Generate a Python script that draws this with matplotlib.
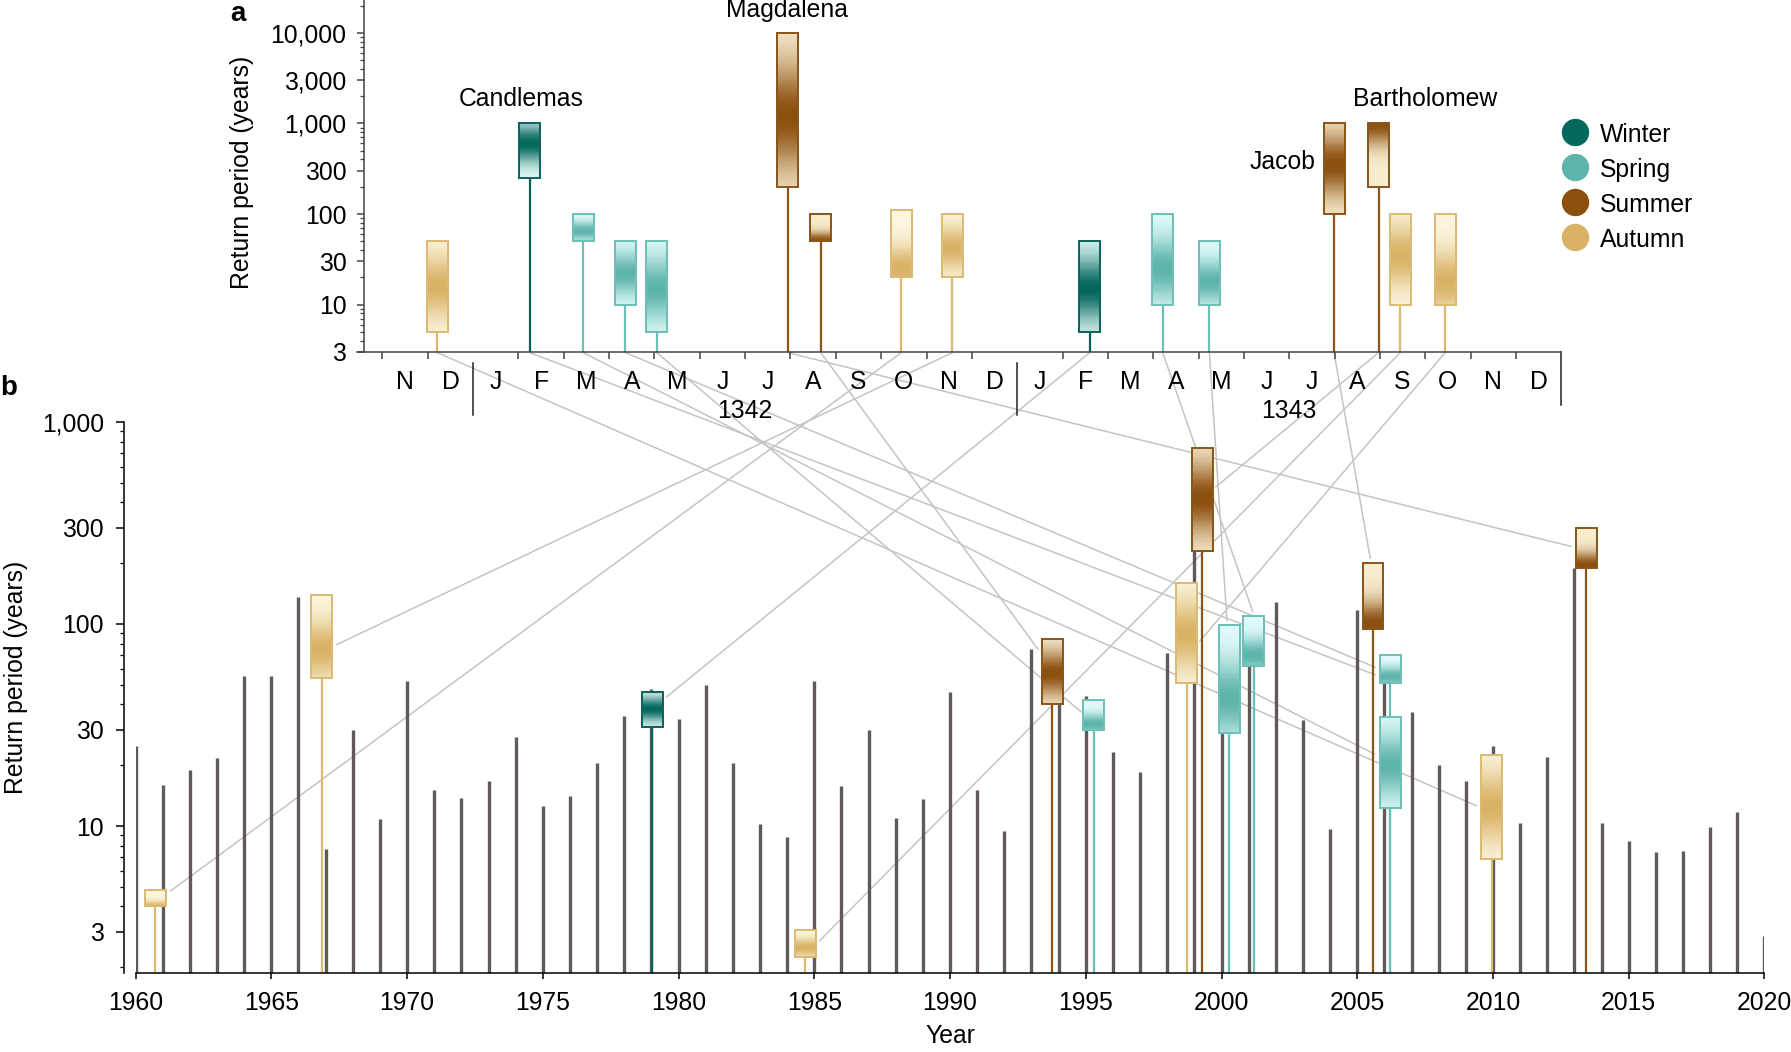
import numpy as np
import matplotlib
matplotlib.use("Agg")
import matplotlib.pyplot as plt
from matplotlib import ticker, transforms
from matplotlib.colors import LinearSegmentedColormap
from matplotlib.patches import Rectangle, ConnectionPatch
from matplotlib.lines import Line2D

FS = 17.8
plt.rcParams['font.family'] = ['Liberation Sans', 'DejaVu Sans']
plt.rcParams['font.size'] = FS

# ---------------- panel a : events of 1341-1343 ----------------
month_labels = ['N', 'D', 'J', 'F', 'M', 'A', 'M', 'J', 'J', 'A', 'S', 'O', 'N', 'D',
                'J', 'F', 'M', 'A', 'M', 'J', 'J', 'A', 'S', 'O', 'N', 'D']
year_names = ['1342', '1343']
year_mid = [8, 20]
year_breaks = [2, 14]

# position in months since 1 Nov 1341
ev_pos = [1.21, 3.25, 4.43, 5.36, 6.05, 8.94, 9.67, 11.44, 12.57, 15.6,
          17.21, 18.24, 20.99, 21.97, 22.45, 23.44]
ev_season = ['Autumn', 'Winter', 'Spring', 'Spring', 'Spring', 'Summer', 'Summer', 'Autumn',
             'Autumn', 'Winter', 'Spring', 'Spring', 'Summer', 'Summer', 'Autumn', 'Autumn']
ev_low = [5, 250, 50, 10, 5, 200, 50, 20, 20, 5, 10, 10, 100, 200, 10, 10]
ev_high = [50, 1000, 100, 50, 50, 10000, 100, 110, 100, 50, 100, 50, 1000, 1000, 100, 100]
ev_best = [16, 600, 65, 22, 15, 1200, 50, 25, 42, 15, 25, 18, 350, 1000, 35, 18]

ev_names = ['Candlemas', 'Magdalena', 'Jacob', 'Bartholomew']
name_x = [3.07, 8.92, 20.59, 23.0]
name_y = [1860, 17900, 377, 1860]
name_ha = ['center', 'center', 'right', 'center']

# ---------------- panel b : 1960-2020 ----------------
years = np.arange(1960, 2021)
annual_max = [25, 16, 19, 21.7, 55, 55, 136, 7.7, 30, 10.8,
              52, 15, 13.7, 16.8, 27.7, 12.6, 14.1, 20.5, 35, 47.6,
              33.8, 50, 20.4, 10.2, 8.8, 52, 15.8, 30, 11, 13.6,
              46, 15, 9.5, 75, 40, 44, 23.3, 18.5, 72, 240,
              29, 62, 128, 33.5, 9.7, 117, 55, 36.7, 20, 16.7,
              25, 10.3, 21.9, 190, 10.3, 8.4, 7.4, 7.5, 9.9, 11.7,
              2.86]

box_year = [1960.73, 1966.86, 1979.03, 1984.66, 1993.76, 1995.30, 1998.72, 1999.29,
            2000.29, 2001.19, 2005.58, 2006.21, 2006.21, 2013.43, 2009.95]
box_season = ['Autumn', 'Autumn', 'Winter', 'Autumn', 'Summer', 'Spring', 'Autumn', 'Summer',
              'Spring', 'Spring', 'Summer', 'Spring', 'Spring', 'Summer', 'Autumn']
box_low = [4.0, 54, 31, 2.25, 40, 30, 51, 230, 29, 62, 94, 51, 12.3, 190, 6.9]
box_high = [4.8, 139, 46, 3.07, 84, 42, 160, 745, 99, 109, 200, 70, 34.5, 298, 22.5]
box_best = [4.0, 75, 38, 2.5, 57, 32, 89, 420, 43, 70, 100, 55, 20, 195, 12.5]

# where each panel-a event's link line ends in panel b
link_year = [2009.39, 2005.67, 2005.64, 2005.67, 1994.83, 2012.88, 1993.24, 1961.29,
             1967.4, 1979.55, 2001.15, 2000.2, 2005.48, 1999.78, 1985.19, 1999.19]
link_val = [12.6, 56, 22.7, 61, 36.7, 242, 75, 4.77, 79, 43.5, 115, 104, 211, 476, 2.7, 82]

seasons = ['Winter', 'Spring', 'Summer', 'Autumn']
season_col = {'Winter': '#05685f', 'Spring': '#5db4ab', 'Summer': '#8b4f0e', 'Autumn': '#d9b266'}
season_light = {'Winter': '#e3f8f5', 'Spring': '#e2fbf9', 'Summer': '#f8eccf', 'Autumn': '#fcf6df'}
season_edge = {'Winter': '#0b6158', 'Spring': '#6cbfb7', 'Summer': '#8a5419', 'Autumn': '#dbba72'}
cmaps = {s: LinearSegmentedColormap.from_list(s, [season_light[s], season_col[s]]) for s in seasons}


def gradient_box(ax, x, w, lo, hi, best, season, bottom):
    ax.vlines(x, bottom, lo, color=season_edge[season], lw=1.6, zorder=2.5)
    edges = np.logspace(np.log10(lo), np.log10(hi), 80)
    mids = np.sqrt(edges[:-1] * edges[1:])
    span = np.log10(hi) - np.log10(lo)
    t = np.exp(-0.5 * ((np.log10(mids) - np.log10(best)) / (0.24 * span)) ** 2)
    ax.pcolormesh([x - w / 2, x + w / 2], edges, t[:, None], cmap=cmaps[season],
                  vmin=0, vmax=1, shading='flat', antialiased=False, zorder=3)
    ax.add_patch(Rectangle((x - w / 2, lo), w, hi - lo, fill=False,
                           ec=season_edge[season], lw=1.4, zorder=3.2))


fig = plt.figure(figsize=(17.91, 10.52), dpi=100)
ax_a = fig.add_axes([0.1992, 0.6654, 0.6725, 0.3346])
ax_b = fig.add_axes([0.0757, 0.0754, 0.9095, 0.5235])
for ax in (ax_a, ax_b):
    ax.set_facecolor('none')
    ax.set_yscale('log')
    ax.spines[['top', 'right']].set_visible(False)
    ax.spines[['left', 'bottom']].set_linewidth(1.1)

# ---- panel a ----
ya0, ya1 = 3, 2.3e4
ax_a.set_ylim(ya0, ya1)
ax_a.set_xlim(-0.567, 26)
ax_a.spines['left'].set_bounds(ya0, ya1)
ax_a.spines['left'].set_position(('data', -0.40))
ax_a.spines[['left', 'bottom']].set_color('#444444')
for i in range(len(ev_pos)):
    gradient_box(ax_a, ev_pos[i], 0.46, ev_low[i], ev_high[i], ev_best[i], ev_season[i], ya0)
for nm, x, y, ha in zip(ev_names, name_x, name_y, name_ha):
    ax_a.text(x, y, nm, ha=ha, va='center', fontsize=FS)

ax_a.yaxis.set_major_locator(ticker.FixedLocator([3, 10, 30, 100, 300, 1000, 3000, 10000]))
ax_a.yaxis.set_major_formatter(ticker.FuncFormatter(lambda v, p: f'{v:,.0f}'))
ax_a.yaxis.set_minor_locator(ticker.LogLocator(base=10, subs=np.arange(2, 10) * 1.0, numticks=30))
ax_a.yaxis.set_minor_formatter(ticker.NullFormatter())
ax_a.tick_params(axis='y', which='major', length=5, width=1.1, pad=8, color='#444444')
ax_a.tick_params(axis='y', which='minor', length=2.8, width=0.9, color='#444444')

bounds = [m for m in range(26) if m not in year_breaks]
ax_a.set_xticks(bounds)
ax_a.set_xticklabels([])
ax_a.set_xticks(np.arange(26) + 0.5, month_labels, minor=True)
ax_a.tick_params(axis='x', which='major', length=5, width=1.1, color='#444444')
ax_a.tick_params(axis='x', which='minor', length=0, pad=13)
trans_a = transforms.blended_transform_factory(ax_a.transData, ax_a.transAxes)
for m in year_breaks:
    ax_a.plot([m, m], [-0.032, -0.18], transform=trans_a, color='#222222', lw=1.1, clip_on=False)
ax_a.plot([26, 26], [0, -0.151], transform=trans_a, color='#222222', lw=1.1, clip_on=False)
for nm, m in zip(year_names, year_mid):
    ax_a.text(m, -0.168, nm, transform=trans_a, ha='center', va='center', fontsize=FS)
ax_a.set_ylabel('Return period (years)', fontsize=FS)
ax_a.yaxis.set_label_coords(-0.0854, 0.51)

# ---- panel b ----
yb0, yb1 = 1.88, 1000
ax_b.set_ylim(yb0, yb1)
ax_b.set_xlim(1960, 2020)
ax_b.spines['left'].set_position(('outward', 8.3))
ax_b.vlines(years, yb0, annual_max, color='#5f5a57', lw=2.4, zorder=2)
for i in range(len(box_year)):
    gradient_box(ax_b, box_year[i], 0.77, box_low[i], box_high[i], box_best[i], box_season[i], yb0)

ax_b.yaxis.set_major_locator(ticker.FixedLocator([3, 10, 30, 100, 300, 1000]))
ax_b.yaxis.set_major_formatter(ticker.FuncFormatter(lambda v, p: f'{v:,.0f}'))
ax_b.yaxis.set_minor_locator(ticker.LogLocator(base=10, subs=np.arange(2, 10) * 1.0, numticks=30))
ax_b.yaxis.set_minor_formatter(ticker.NullFormatter())
ax_b.tick_params(axis='y', which='major', length=5.5, width=1.1, pad=9)
ax_b.tick_params(axis='y', which='minor', length=3.2, width=0.9)
ax_b.set_xticks(np.arange(1960, 2021, 5))
ax_b.tick_params(axis='x', length=4.5, width=1.1, pad=9)
ax_b.set_xlabel('Year', fontsize=FS)
ax_b.xaxis.set_label_coords(0.5, -0.093)
ax_b.set_ylabel('Return period (years)', fontsize=FS)
ax_b.yaxis.set_label_coords(-0.066, 0.537)

# ---- link lines between the panels ----
for i in range(len(ev_pos)):
    con = ConnectionPatch(xyA=(ev_pos[i], 2.95), coordsA=ax_a.transData,
                          xyB=(link_year[i], link_val[i]), coordsB=ax_b.transData,
                          color='#c4c4c4', lw=1.1, shrinkA=0, shrinkB=0, zorder=-1)
    fig.add_artist(con)

# ---- legend ----
handles = [Line2D([], [], ls='', marker='o', markersize=18.7, color=season_col[s]) for s in seasons]
fig.legend(handles, seasons, loc='upper left', bbox_to_anchor=(0.8727, 0.8838), frameon=False,
           fontsize=FS, handlelength=1.0, handleheight=1.0, handletextpad=0.5,
           labelspacing=0.42, borderpad=0, borderaxespad=0)

fig.text(237.6 / 1791, 1 - 13.7 / 1052, 'a', fontsize=20, fontweight='bold', ha='center', va='center')
fig.text(9 / 1791, 1 - 388 / 1052, 'b', fontsize=20, fontweight='bold', ha='center', va='center')

fig.savefig('out.png', dpi=100, facecolor='white')
